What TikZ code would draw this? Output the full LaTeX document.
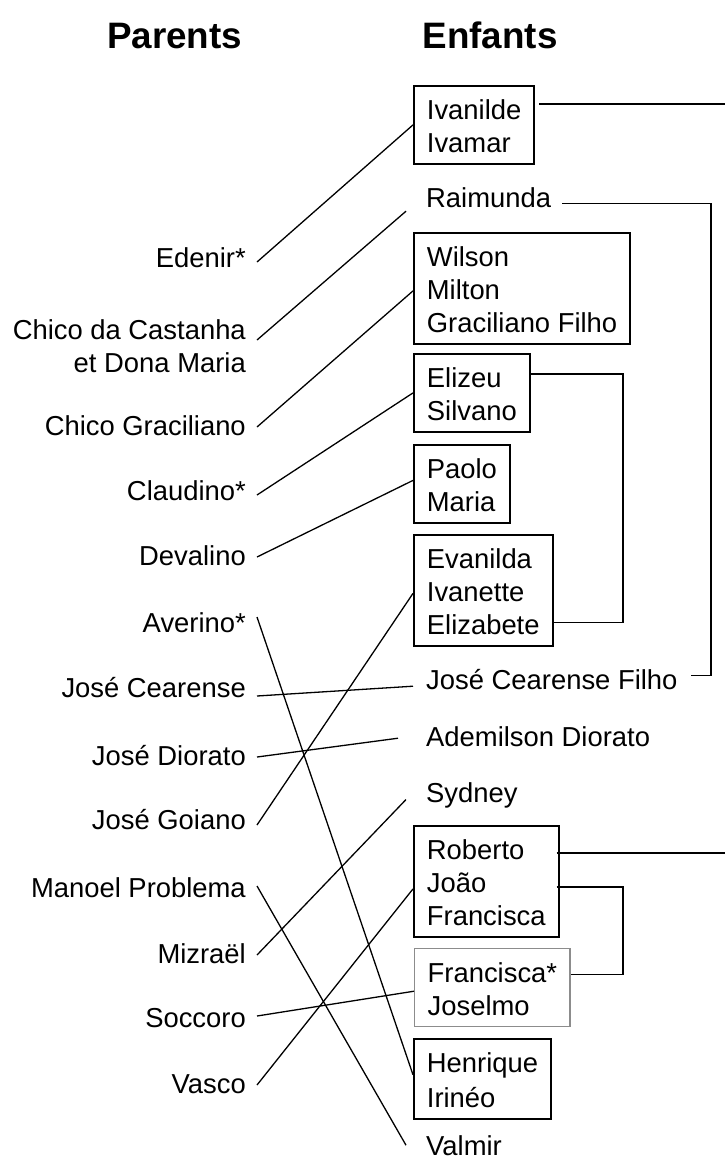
\documentclass[tikz,border=0pt]{standalone}
\usepackage{fontspec}
\setmainfont{Liberation Sans}
\newcommand\sx{\rule[-5pt]{0pt}{33pt}}
\begin{document}
\begin{tikzpicture}[x=1pt,y=-1pt,
  txt/.style={font=\fontsize{27.4}{33}\selectfont, inner xsep=13pt, inner ysep=6pt, align=left, anchor=north west},
  kbox/.style={txt, draw, line width=1.8pt},
  gbox/.style={txt, draw=black!45, line width=1.4pt},
  prt/.style={font=\fontsize{27.4}{33}\selectfont, inner xsep=11pt, inner ysep=0pt, align=right, anchor=north east},
  head/.style={font=\fontsize{36.8}{40}\selectfont\bfseries, inner sep=0pt, anchor=base},
  link/.style={line width=1.3pt}
]
\useasboundingbox (0,0) rectangle (725,1160);
\fill[white] (0,0) rectangle (725,1160);

% headings
\node[head] (hp) at (174.5,48) {Parents};
\node[head] (he) at (490,48) {Enfants};

% parents
\node[prt] (edenir)   at (257,239)  {\sx Edenir*};
\node[prt] (chico)    at (257,311)  {\sx Chico da Castanha\\\sx et Dona Maria};
\node[prt] (chicog)   at (257,407)  {\sx Chico Graciliano};
\node[prt] (claudino) at (257,472)  {\sx Claudino*};
\node[prt] (devalino) at (257,537)  {\sx Devalino};
\node[prt] (averino)  at (257,604)  {\sx Averino*};
\node[prt] (josec)    at (257,669)  {\sx José Cearense};
\node[prt] (josed)    at (257,737)  {\sx José Diorato};
\node[prt] (joseg)    at (257,801)  {\sx José Goiano};
\node[prt] (manoel)   at (257,869)  {\sx Manoel Problema};
\node[prt] (mizrael)  at (257,935)  {\sx Mizraël};
\node[prt] (soccoro)  at (257,999)  {\sx Soccoro};
\node[prt] (vasco)    at (257,1065) {\sx Vasco};

% children
\node[kbox] (b1)   at (413,85)   {\sx Ivanilde\\\sx Ivamar};
\node[txt]  (raim) at (413,173)  {\sx Raimunda};
\node[kbox] (b2)   at (413,232)  {\sx Wilson\\\sx Milton\\\sx Graciliano Filho};
\node[kbox] (b3)   at (413,353)  {\sx Elizeu\\\sx Silvano};
\node[kbox] (b4)   at (413,444)  {\sx Paolo\\\sx Maria};
\node[kbox] (b5)   at (413,534)  {\sx Evanilda\\\sx Ivanette\\\sx Elizabete};
\node[txt]  (jcf)  at (413,655)  {\sx José Cearense Filho};
\node[txt]  (adem) at (413,712)  {\sx Ademilson Diorato};
\node[txt]  (syd)  at (413,768)  {\sx Sydney};
\node[kbox] (b6)   at (413,825)  {\sx Roberto\\\sx João\\\sx Francisca};
\node[gbox] (b7)   at (414,948)  {\sx Francisca*\\\sx Joselmo};
\node[kbox] (b8)   at (413,1038) {\sx Henrique\\\sx Irinéo};
\node[txt]  (valm) at (413,1121) {\sx Valmir};

% parent -> child links
\draw[link] ([yshift=-23pt]edenir.north east)   -- (b1.west);
\draw[link] ([yshift=-29pt]chico.north east)    -- ([xshift=-7pt,yshift=-15.5pt]raim.west);
\draw[link] ([yshift=-20pt]chicog.north east)   -- ([yshift=-2.5pt]b2.west);
\draw[link] ([yshift=-23pt]claudino.north east) -- (b3.west);
\draw[link] ([yshift=-20pt]devalino.north east) -- ([yshift=3.5pt]b4.west);
\draw[link] ([yshift=-13pt]averino.north east)  -- ([yshift=4pt]b8.west);
\draw[link] ([yshift=-27pt]josec.north east)    -- ([yshift=-8.5pt]jcf.west);
\draw[link] ([yshift=-20pt]josed.north east)    -- ([xshift=-15pt,yshift=-3.5pt]adem.west);
\draw[link] ([yshift=-24pt]joseg.north east)    -- ([yshift=-3pt]b5.west);
\draw[link] ([yshift=-17pt]manoel.north east)   -- ([xshift=-7pt,yshift=-1.5pt]valm.west);
\draw[link] ([yshift=-20pt]mizrael.north east)  -- ([xshift=-7pt,yshift=-8.5pt]syd.west);
\draw[link] ([yshift=-17pt]soccoro.north east)  -- ([yshift=-3.5pt]b7.west);
\draw[link] ([yshift=-20pt]vasco.north east)    -- ([yshift=-7.5pt]b6.west);

% right-hand brackets
\coordinate (rim) at (725,0);
\coordinate (v1) at (711,0);
\coordinate (v2) at (623,0);
\coordinate (r1) at ([xshift=4pt,yshift=21pt]b1.east);
\draw[link] (r1) -- (r1 -| rim);
\coordinate (r2) at ([xshift=-2pt,yshift=-7.5pt]raim.east);
\coordinate (r3) at ([yshift=2.5pt]jcf.east);
\draw[link] (r2) -- (r2 -| v1) -- (r3 -| v1) -- (r3);
\coordinate (r4) at ([yshift=19pt]b3.east);
\coordinate (r5) at ([yshift=-32pt]b5.east);
\draw[link] (r4) -- (r4 -| v2) -- (r5 -| v2) -- (r5);
\coordinate (r6) at ([xshift=-3pt,yshift=28.5pt]b6.east);
\draw[link] (r6) -- (r6 -| rim);
\coordinate (r7) at ([xshift=-3pt,yshift=-5.5pt]b6.east);
\coordinate (r8) at ([yshift=13.5pt]b7.east);
\draw[link] (r7) -- (r7 -| v2) -- (r8 -| v2) -- (r8);
\end{tikzpicture}
\end{document}
